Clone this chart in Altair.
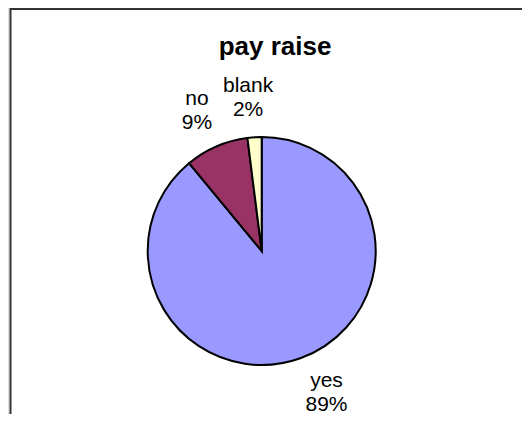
import altair as alt
import pandas as pd

categories = ["yes", "no", "blank"]
values = [89, 9, 2]
labels = ["89%", "9%", "2%"]
colors = ["#9999FF", "#993366", "#FFFFCC"]
title_text = "pay raise"

df = pd.DataFrame({
    "cat": categories,
    "val": values,
    "idx": list(range(len(categories))),
    "lab": [[c, p] for c, p in zip(categories, labels)],
})

CX, CY = 253.7, 243

pie = alt.Chart(df).mark_arc(radius=114, stroke="#000000", strokeWidth=2).encode(
    theta=alt.Theta("val:Q", stack=True),
    order=alt.Order("idx:Q"),
    color=alt.Color("cat:N", scale=alt.Scale(domain=categories, range=colors), legend=None, sort=None),
    x=alt.value(CX), y=alt.value(CY),
)

label_base = alt.Chart(df).transform_window(
    cum="sum(val)", sort=[alt.SortField("idx")], frame=[None, 0]
).transform_calculate(
    mid="datum.cum - datum.val / 2"
).encode(
    theta=alt.Theta("mid:Q", stack=None),
    text="lab",
    x=alt.value(CX), y=alt.value(CY),
)

text_style = dict(radius=153, font="Liberation Sans", fontSize=21, lineHeight=24,
                  align="center", baseline="middle", color="#000000")

text_small = label_base.mark_text(dx=-4, dy=-12, **text_style).transform_filter(
    alt.datum.cat != "yes")
text_big = label_base.mark_text(dx=13, dy=-14, **text_style).transform_filter(
    alt.datum.cat == "yes")

title = alt.Chart(pd.DataFrame({"t": [title_text]})).mark_text(
    font="Liberation Sans", fontSize=26, fontWeight="bold", align="center",
    baseline="alphabetic", color="#000000").encode(
    text="t:N", x=alt.value(267), y=alt.value(47))

frame_top = alt.Chart(pd.DataFrame({"a": [0]})).mark_rule(color="#333333", strokeWidth=2).encode(
    x=alt.value(2), x2=alt.value(514), y=alt.value(1))
frame_left = alt.Chart(pd.DataFrame({"a": [0]})).mark_rule(color="#333333", strokeWidth=2).encode(
    x=alt.value(2.5), y=alt.value(0), y2=alt.value(406))

chart = alt.layer(frame_top, frame_left, pie, text_small, text_big, title).properties(
    width=514, height=406,
    autosize=alt.AutoSizeParams(type="none"),
    padding=0,
).configure_view(stroke=None).configure(background="#FFFFFF")

chart.save("out.html", embed_options={"renderer": "svg", "actions": False})
